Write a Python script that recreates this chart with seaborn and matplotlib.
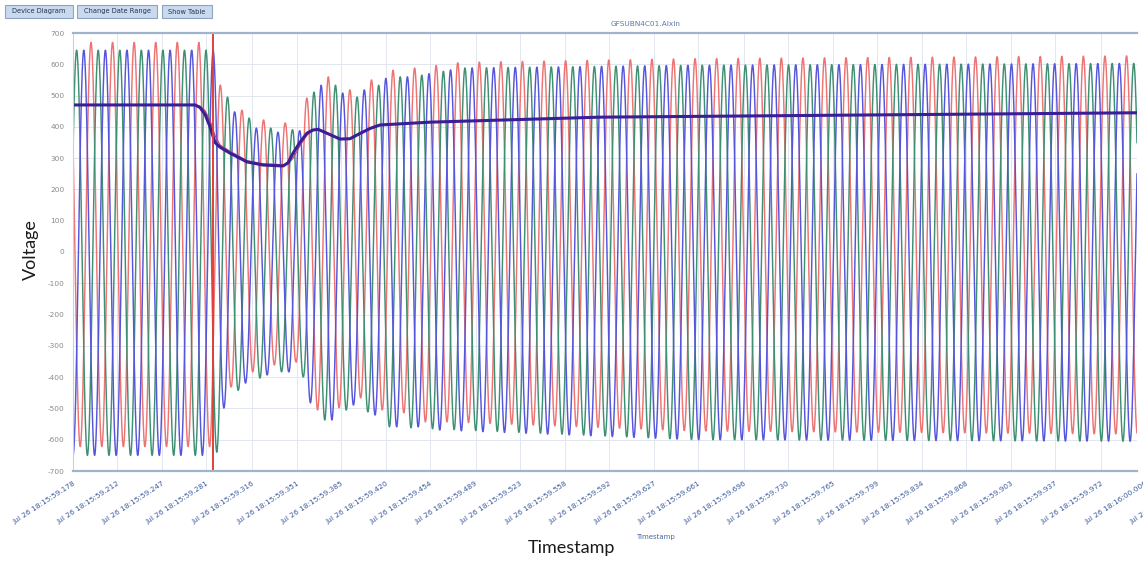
import numpy as np
import pandas as pd
import seaborn as sns
import matplotlib
matplotlib.use("Agg")
import matplotlib.pyplot as plt
from matplotlib.patches import Rectangle

# ---------------- data ----------------
tick_labels = [
    "Jul 26 18:15:59.178", "Jul 26 18:15:59.212", "Jul 26 18:15:59.247", "Jul 26 18:15:59.281",
    "Jul 26 18:15:59.316", "Jul 26 18:15:59.351", "Jul 26 18:15:59.385", "Jul 26 18:15:59.420",
    "Jul 26 18:15:59.454", "Jul 26 18:15:59.489", "Jul 26 18:15:59.523", "Jul 26 18:15:59.558",
    "Jul 26 18:15:59.592", "Jul 26 18:15:59.627", "Jul 26 18:15:59.661", "Jul 26 18:15:59.696",
    "Jul 26 18:15:59.730", "Jul 26 18:15:59.765", "Jul 26 18:15:59.799", "Jul 26 18:15:59.834",
    "Jul 26 18:15:59.868", "Jul 26 18:15:59.903", "Jul 26 18:15:59.937", "Jul 26 18:15:59.972",
    "Jul 26 18:16:00.006", "Jul 26 18:16:00.041",
]
y_ticks = [-700, -600, -500, -400, -300, -200, -100, 0, 100, 200, 300, 400, 500, 600, 700]
window_ms = 822.0          # visible span after 18:15:59.178
cursor_ms = 108.2          # red cursor line
period_ms = 16.667         # 60 Hz
red_first_crest_ms = 13.9
phase_step_ms = 5.556      # 120 degrees

# crest / trough envelopes (ms after start, volts)
red_crest_ms = [0, 97.2, 113.9, 130.6, 147.2, 163.9, 180.6, 197.2, 213.9, 230.6, 247.2, 263.9, 300, 480, 822]
red_crest_v = [670, 670, 533, 453, 422, 412, 492, 560, 518, 550, 581, 588, 606, 618, 627]
red_trough_ms = [0, 105.6, 122.2, 138.9, 155.6, 172.2, 188.9, 205.6, 222.2, 238.9, 255.6, 272.2, 288.9, 480, 822]
red_trough_v = [-622, -622, -431, -383, -361, -351, -505, -498, -466, -505, -514, -543, -543, -572, -582]

green_crest_ms = [0, 102.8, 119.4, 136.1, 152.8, 169.4, 186.1, 202.8, 219.4, 236.1, 252.8, 269.4, 300, 480, 822]
green_crest_v = [645, 645, 495, 428, 396, 390, 511, 533, 495, 533, 560, 565, 588, 597, 603]
green_trough_ms = [0, 94.4, 111.1, 127.8, 144.4, 161.1, 177.8, 194.4, 211.1, 227.8, 244.4, 261.1, 277.8, 480, 822]
green_trough_v = [-650, -650, -640, -441, -403, -383, -399, -537, -505, -511, -559, -562, -565, -600, -605]

blue_crest_ms = [0, 108.3, 125.0, 141.7, 158.3, 175.0, 191.7, 208.3, 225.0, 241.7, 258.3, 275.0, 300, 480, 822]
blue_crest_v = [645, 645, 447, 396, 383, 387, 533, 508, 518, 555, 560, 570, 588, 597, 603]
blue_trough_ms = [0, 100.0, 116.7, 133.3, 150.0, 166.7, 183.3, 200.0, 216.7, 233.3, 250.0, 266.7, 283.3, 480, 822]
blue_trough_v = [-650, -650, -498, -419, -393, -383, -482, -537, -489, -521, -559, -559, -569, -600, -605]

rms_ms = [0, 94.3, 98.1, 102.0, 105.9, 109.7, 113.6, 121.3, 134.4, 146.8, 162.3, 166.1, 170.0,
          175.4, 180.8, 185.4, 189.3, 193.2, 206.3, 214.0, 219.4, 229.5, 237.2, 275.9, 407.2, 822]
rms_v = [470, 470, 462, 440, 400, 350, 335, 316, 288, 278, 275, 285, 316,
         351, 380, 390, 392, 385, 361, 362, 374, 395, 406, 415, 431, 445]
rms2_ms = [0, 94.3, 98.1, 102.0, 105.9, 109.7, 113.6, 121.3, 134.4, 146.8, 162.3, 166.1, 170.0,
           175.4, 180.8, 185.4, 189.3, 193.2, 206.3, 214.0, 219.4, 229.5, 237.2, 275.9, 407.2, 822]
rms2_v = [470, 470, 466, 452, 420, 372, 342, 322, 292, 282, 279, 281, 300,
          340, 374, 388, 393, 387, 362, 361, 372, 393, 405, 415, 431, 445]

# ---------------- build frames ----------------
def parse_ms(lbl):
    hh, mm, ss = lbl.split(" ")[-1].split(":")
    return (int(hh) * 3600 + int(mm) * 60 + float(ss)) * 1000.0

t0 = parse_ms(tick_labels[0])
tick_pos = [parse_ms(l) - t0 for l in tick_labels]

t = np.linspace(0, window_ms, 20000)
frames = []
phases = [("A", red_crest_ms, red_crest_v, red_trough_ms, red_trough_v, 0),
          ("B", green_crest_ms, green_crest_v, green_trough_ms, green_trough_v, 1),
          ("C", blue_crest_ms, blue_crest_v, blue_trough_ms, blue_trough_v, 2)]
for name, cm, cv, tm, tv, k in phases:
    up = np.interp(t, cm, cv)
    lo = np.interp(t, tm, tv)
    mid = (up + lo) / 2
    amp = (up - lo) / 2
    crest = red_first_crest_ms + k * phase_step_ms
    v = mid + amp * np.cos(2 * np.pi * (t - crest) / period_ms)
    frames.append(pd.DataFrame({"t": t, "v": v, "phase": name}))
wave = pd.concat(frames, ignore_index=True)
rms = pd.DataFrame({"t": rms_ms, "v": rms_v})
rms2 = pd.DataFrame({"t": rms2_ms, "v": rms2_v})

# ---------------- plot ----------------
sns.set_theme(style="white")
plt.rcParams['font.family'] = ['DejaVu Sans']

W, H = 1143, 561
fig = plt.figure(figsize=(W / 100, H / 100), dpi=100)
fig.patch.set_facecolor("white")
ax = fig.add_axes([73 / W, 1 - 471 / H, (1137 - 73) / W, (471 - 33) / H])

palette = {"A": "#ee7373", "B": "#3f8f72", "C": "#5656dc"}
sns.lineplot(data=wave, x="t", y="v", hue="phase", palette=palette, estimator=None,
             sort=False, lw=1.05, legend=False, ax=ax)
sns.lineplot(data=rms2, x="t", y="v", color="#c0407a", lw=0.9, estimator=None, sort=False, ax=ax)
sns.lineplot(data=rms, x="t", y="v", color="#3a1e96", lw=2.2, estimator=None, sort=False, ax=ax)
ax.axvline(cursor_ms, color="#e0403a", lw=1.4)

ax.set_xlim(0, window_ms)
ax.set_ylim(-700, 700)
ax.set_yticks(y_ticks)
ax.set_yticklabels([str(v) for v in y_ticks], fontsize=5.3, color="#8a8a8a")
in_range = [p for p in tick_pos if p <= window_ms]
ax.set_xticks(in_range)
ax.set_xticklabels([])
ax.tick_params(axis="both", length=0, pad=6)
ax.grid(True, color="#e2e6ee", lw=0.7)
ax.set_xlabel("")
ax.set_ylabel("")
for s in ["top", "bottom"]:
    ax.spines[s].set_color("#9fb3cc")
    ax.spines[s].set_linewidth(1.6)
ax.spines["left"].set_color("#c8d0dc")
ax.spines["left"].set_linewidth(0.8)
ax.spines["right"].set_visible(False)

for p, lbl in zip(tick_pos, tick_labels):
    ax.annotate(lbl, xy=(p, 0), xycoords=("data", "axes fraction"), xytext=(0, -7),
                textcoords="offset points", rotation=33, ha="right", va="top",
                rotation_mode="anchor", fontsize=5.3, color="#3b5a9e", annotation_clip=False)

# header buttons
for x0, x1, txt in [(5, 73, "Device Diagram"), (77, 157, "Change Date Range"), (162, 212, "Show Table")]:
    fig.add_artist(Rectangle((x0 / W, 1 - 18 / H), (x1 - x0) / W, 13 / H, transform=fig.transFigure,
                             facecolor="#c9d9ee", edgecolor="#8ea4c4", lw=0.8))
    fig.text((x0 + x1) / 2 / W, 1 - 11.5 / H, txt, ha="center", va="center", fontsize=4.8, color="#223355")

fig.text(646 / W, 1 - 24 / H, "GFSUBN4C01.Alxln", ha="center", va="center", fontsize=5.3, color="#5a78a8")
fig.text(655 / W, 1 - 537 / H, "Timestamp", ha="center", va="center", fontsize=5, color="#4a6aa0")
fig.text(31 / W, 1 - 250 / H, "Voltage", rotation=90, ha="center", va="center", fontsize=13,
         family=["Lato", "DejaVu Sans"], color="#1a1a1a")
fig.text(571 / W, 1 - 548 / H, "Timestamp", ha="center", va="center", fontsize=13,
         family=["Lato", "DejaVu Sans"], color="#1a1a1a")

fig.savefig("out.png", dpi=100)
